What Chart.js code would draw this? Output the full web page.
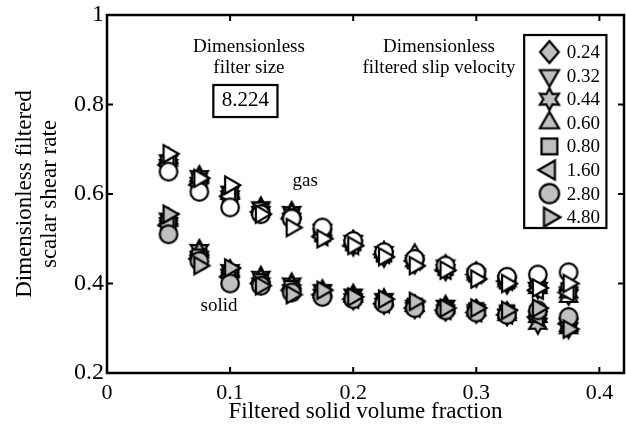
<!DOCTYPE html>
<html>
<head>
<meta charset="utf-8">
<script src="https://cdn.jsdelivr.net/npm/chart.js@4.4.1/dist/chart.umd.min.js"></script>
<style>
  html, body { margin: 0; padding: 0; background: #fff; }
  #fontWarm { position: absolute; left: -9999px; font-family: 'Liberation Serif'; font-size: 20px; }
</style>
</head>
<body>
<span id="fontWarm">0.1 Dimensionless</span>
<canvas id="shearChart" width="626" height="431"></canvas>
<script>
// filtered solid volume fraction (x positions shared by every series)
const volFrac = [0.05, 0.075, 0.1, 0.125, 0.15, 0.175, 0.2, 0.225, 0.25, 0.275, 0.3, 0.325, 0.35, 0.375];

// dimensionless filtered slip velocity, one entry per series
const slipLabels = ['0.24', '0.32', '0.44', '0.60', '0.80', '1.60', '2.80', '4.80'];
const slipShapes = ['diamond', 'triDown', 'star', 'triUp', 'square', 'triLeft', 'circle', 'triRight'];

// gas phase shear rate
const gas024 = [0.670, 0.630, 0.600, 0.565, 0.550, 0.515, 0.490, 0.465, 0.450, 0.435, 0.420, 0.405, 0.395, 0.385];
const gas032 = [0.665, 0.625, 0.595, 0.560, 0.545, 0.510, 0.485, 0.460, 0.445, 0.430, 0.415, 0.400, 0.390, 0.375];
const gas044 = [0.675, 0.640, 0.605, 0.570, 0.560, 0.520, 0.495, 0.470, 0.450, 0.440, 0.420, 0.405, 0.390, 0.380];
const gas060 = [0.680, 0.635, 0.600, 0.565, 0.555, 0.515, 0.495, 0.470, 0.465, 0.440, 0.425, 0.410, 0.395, 0.370];
const gas080 = [0.670, 0.630, 0.600, 0.565, 0.550, 0.510, 0.490, 0.465, 0.450, 0.435, 0.420, 0.405, 0.395, 0.385];
const gas160 = [0.665, 0.620, 0.595, 0.560, 0.545, 0.505, 0.485, 0.465, 0.450, 0.430, 0.420, 0.405, 0.385, 0.380];
const gas280 = [0.650, 0.605, 0.570, 0.555, 0.545, 0.525, 0.495, 0.470, 0.455, 0.440, 0.425, 0.415, 0.420, 0.425];
const gas480 = [0.690, 0.635, 0.620, 0.555, 0.525, 0.500, 0.485, 0.460, 0.440, 0.430, 0.410, 0.400, 0.390, 0.400];

// solid phase shear rate
const sol024 = [0.540, 0.465, 0.425, 0.405, 0.390, 0.375, 0.370, 0.360, 0.350, 0.345, 0.340, 0.335, 0.330, 0.320];
const sol032 = [0.535, 0.460, 0.420, 0.400, 0.385, 0.375, 0.365, 0.355, 0.345, 0.340, 0.335, 0.330, 0.325, 0.310];
const sol044 = [0.545, 0.475, 0.430, 0.415, 0.400, 0.385, 0.375, 0.365, 0.350, 0.350, 0.340, 0.330, 0.310, 0.300];
const sol060 = [0.540, 0.470, 0.425, 0.410, 0.395, 0.380, 0.370, 0.360, 0.350, 0.345, 0.340, 0.335, 0.325, 0.305];
const sol080 = [0.535, 0.460, 0.420, 0.405, 0.390, 0.380, 0.370, 0.360, 0.350, 0.345, 0.340, 0.335, 0.330, 0.315];
const sol160 = [0.530, 0.455, 0.415, 0.400, 0.385, 0.375, 0.365, 0.355, 0.345, 0.340, 0.335, 0.330, 0.325, 0.310];
const sol280 = [0.510, 0.450, 0.400, 0.395, 0.380, 0.370, 0.365, 0.355, 0.345, 0.340, 0.335, 0.330, 0.340, 0.325];
const sol480 = [0.555, 0.440, 0.435, 0.395, 0.375, 0.385, 0.370, 0.365, 0.360, 0.345, 0.345, 0.340, 0.345, 0.298];

const gasSeries = [gas024, gas032, gas044, gas060, gas080, gas160, gas280, gas480];
const solSeries = [sol024, sol032, sol044, sol060, sol080, sol160, sol280, sol480];

const xTicks = [0, 0.1, 0.2, 0.3, 0.4];
const yTicks = [0.2, 0.4, 0.6, 0.8, 1];

const FONT = "'Liberation Serif', 'DejaVu Serif', serif";
const GRAY = '#c0c0c0';
const INK = '#000';

// marker sprites, drawn once and handed to Chart.js as pointStyle
function makeMarker(shape, fill, r) {
   const size = Math.ceil(r * 2 + 6);
   const c = document.createElement('canvas');
   c.width = size; c.height = size;
   const g = c.getContext('2d');
   const m = size / 2;
   g.translate(m, m);
   g.beginPath();
   if (shape === 'circle') {
      g.arc(0, 0, r * 0.88, 0, Math.PI * 2);
   } else if (shape === 'square') {
      const h = r * 0.72;
      g.rect(-h, -h, h * 2, h * 2);
   } else if (shape === 'diamond') {
      g.moveTo(0, -r); g.lineTo(r * 0.85, 0); g.lineTo(0, r); g.lineTo(-r * 0.85, 0);
      g.closePath();
   } else if (shape === 'star') {
      for (let k = 0; k < 12; k++) {
         const a = -Math.PI / 2 + k * Math.PI / 6;
         const rr = k % 2 === 0 ? r : r * 0.55;
         if (k === 0) g.moveTo(rr * Math.cos(a), rr * Math.sin(a));
         else g.lineTo(rr * Math.cos(a), rr * Math.sin(a));
      }
      g.closePath();
   } else {
      const rot = { triUp: -Math.PI / 2, triDown: Math.PI / 2, triLeft: Math.PI, triRight: 0 }[shape];
      for (let k = 0; k < 3; k++) {
         const a = rot + k * 2 * Math.PI / 3;
         if (k === 0) g.moveTo(r * Math.cos(a), r * Math.sin(a));
         else g.lineTo(r * Math.cos(a), r * Math.sin(a));
      }
      g.closePath();
   }
   g.fillStyle = fill;
   g.fill();
   g.lineWidth = 2.2;
   g.lineJoin = 'miter';
   g.strokeStyle = INK;
   g.stroke();
   return c;
}

const whiteIcons = slipShapes.map(s => makeMarker(s, '#ffffff', 10));
const grayIcons = slipShapes.map(s => makeMarker(s, GRAY, 10));
const legendIcons = slipShapes.map(s => makeMarker(s, GRAY, 11));

// box, inward ticks on all four sides, text notes and the legend box
const decorPlugin = {
   id: 'decor',
   afterDraw(chart) {
      const ctx = chart.ctx;
      const xs = chart.scales.x, ys = chart.scales.y;
      const a = chart.chartArea;
      const px = v => xs.getPixelForValue(v);
      const py = v => ys.getPixelForValue(v);
      ctx.save();
      ctx.strokeStyle = INK;
      ctx.lineWidth = 2.5;
      ctx.strokeRect(a.left, a.top, a.right - a.left, a.bottom - a.top);
      ctx.lineWidth = 2;
      ctx.beginPath();
      xTicks.forEach(v => {
         const x = px(v);
         ctx.moveTo(x, a.bottom); ctx.lineTo(x, a.bottom - 6);
         ctx.moveTo(x, a.top); ctx.lineTo(x, a.top + 6);
      });
      yTicks.forEach(v => {
         const y = py(v);
         ctx.moveTo(a.left, y); ctx.lineTo(a.left + 6, y);
         ctx.moveTo(a.right, y); ctx.lineTo(a.right - 6, y);
      });
      ctx.stroke();

      ctx.fillStyle = INK;
      ctx.textAlign = 'center';
      ctx.textBaseline = 'middle';
      ctx.font = '19px ' + FONT;
      ctx.fillText('Dimensionless', px(0.1153), py(0.9285));
      ctx.fillText('filter size', px(0.1153), py(0.8816));
      ctx.fillText('Dimensionless', px(0.2697), py(0.9285));
      ctx.fillText('filtered slip velocity', px(0.2697), py(0.8816));
      ctx.fillText('gas', px(0.161), py(0.629));
      ctx.fillText('solid', px(0.091), py(0.350));

      // filter size value in its own box
      ctx.font = '21px ' + FONT;
      ctx.fillText('8.224', px(0.1125), py(0.808));
      ctx.lineWidth = 2.2;
      ctx.strokeRect(px(0.0864), py(0.8436), px(0.1385) - px(0.0864), py(0.772) - py(0.8436));

      // legend box
      const lx0 = px(0.3389), lx1 = px(0.4057);
      const ly0 = py(0.9553), ly1 = py(0.524);
      ctx.fillStyle = '#fff';
      ctx.fillRect(lx0, ly0, lx1 - lx0, ly1 - ly0);
      ctx.strokeRect(lx0, ly0, lx1 - lx0, ly1 - ly0);
      ctx.fillStyle = INK;
      ctx.textAlign = 'left';
      ctx.font = '19px ' + FONT;
      slipLabels.forEach((lab, i) => {
         const y = ly0 + 17 + i * 23.6;
         const icon = legendIcons[i];
         ctx.drawImage(icon, px(0.3594) - icon.width / 2, y - icon.height / 2);
         ctx.fillText(lab, px(0.3735), y + 1);
      });
      ctx.restore();
   }
};

function drawChart() {
   const datasets = [];
   slipLabels.forEach((lab, i) => {
      datasets.push({
         label: 'gas ' + lab,
         data: volFrac.map((x, j) => ({ x: x, y: gasSeries[i][j] })),
         pointStyle: whiteIcons[i],
         pointRadius: 9,
         showLine: false,
         order: 20 - i
      });
      datasets.push({
         label: 'solid ' + lab,
         data: volFrac.map((x, j) => ({ x: x, y: solSeries[i][j] })),
         pointStyle: grayIcons[i],
         pointRadius: 9,
         showLine: false,
         order: 20 - i
      });
   });

   new Chart(document.getElementById('shearChart'), {
      type: 'scatter',
      data: { datasets: datasets },
      options: {
         responsive: false,
         animation: false,
         layout: { autoPadding: false, padding: { top: 15, right: 2, left: 0, bottom: 0 } },
         plugins: {
            legend: { display: false },
            tooltip: { enabled: false }
         },
         scales: {
            x: {
               type: 'linear',
               min: 0,
               max: 0.42,
               afterBuildTicks: s => { s.ticks = xTicks.map(v => ({ value: v })); },
               afterFit: s => { s.height = 58; s.paddingLeft = 0; s.paddingRight = 0; },
               ticks: {
                  color: INK,
                  font: { family: FONT, size: 22 },
                  padding: 7,
                  maxRotation: 0,
                  callback: v => String(v)
               },
               grid: { display: false, drawTicks: false },
               border: { display: false },
               title: {
                  display: true,
                  text: 'Filtered solid volume fraction',
                  color: INK,
                  font: { family: FONT, size: 23, lineHeight: 1.0 },
                  padding: { top: 0, bottom: 8 }
               }
            },
            y: {
               type: 'linear',
               min: 0.2,
               max: 1,
               afterBuildTicks: s => { s.ticks = yTicks.map(v => ({ value: v })); },
               afterFit: s => { s.width = 107; s.paddingTop = 0; s.paddingBottom = 0; },
               ticks: {
                  color: INK,
                  font: { family: FONT, size: 24 },
                  padding: 3,
                  callback: v => String(v)
               },
               grid: { display: false, drawTicks: false },
               border: { display: false },
               title: {
                  display: true,
                  text: ['Dimensionless filtered', 'scalar shear rate'],
                  color: INK,
                  font: { family: FONT, size: 23, lineHeight: 1.1 },
                  padding: { top: 12, bottom: 0 }
               }
            }
         }
      },
      plugins: [decorPlugin]
   });
}

// make sure the serif face is ready before the canvas text is laid out
Promise.all([
   document.fonts.load("20px 'Liberation Serif'"),
   document.fonts.load("24px 'Liberation Serif'")
]).then(drawChart, drawChart);
</script>
</body>
</html>
